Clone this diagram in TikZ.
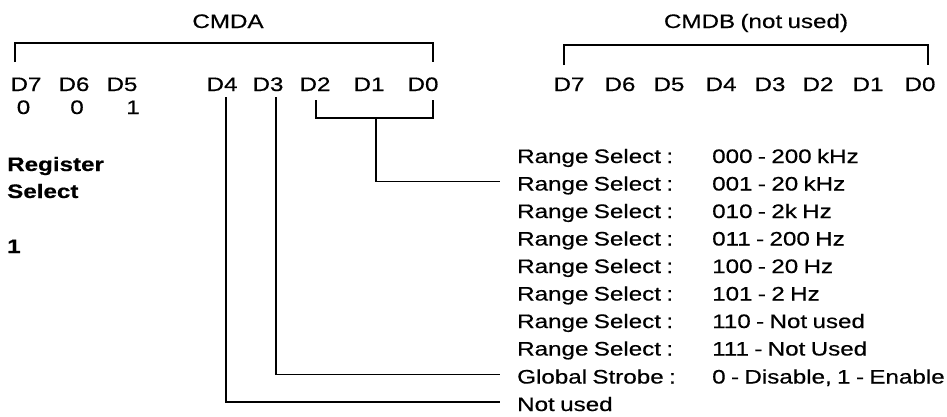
\documentclass[tikz,border=0pt]{standalone}
\usepackage{fontspec}
\setmainfont{Liberation Sans}[FakeStretch=1.24, WordSpace=0.8, FakeBold=0.5]
\begin{document}
\begin{tikzpicture}[x=1pt,y=-1pt,
  lbl/.style={inner sep=0pt, font=\fontsize{19.5}{22}\selectfont},
  bit/.style={lbl, anchor=base},
  row/.style={lbl, anchor=base west},
  bold/.style={row, font=\fontsize{19.5}{22}\selectfont\bfseries},
  wire/.style={line width=1.6pt}]
\useasboundingbox (0,0) rectangle (947,416);

% register titles
\node[bit] (cmda) at (228,28) {CMDA};
\node[bit] (cmdb) at (756,28) {CMDB (not used)};

% CMDA bit labels
\foreach \n/\x in {7/26,6/74,5/122,4/222,3/268,2/315,1/369,0/423}
  \node[bit] (a\n) at (\x,91) {D\n};
% CMDB bit labels
\foreach \n/\x in {7/569,6/620,5/669,4/721,3/770,2/818,1/868,0/920}
  \node[bit] (b\n) at (\x,91) {D\n};

% register select bits
\node[bit] (v7) at (23.5,114) {0};
\node[bit] (v6) at (77,114) {0};
\node[bit] (v5) at (133,114) {1};
\node[bold] (rs1) at (7,171) {Register};
\node[bold] (rs2) at (7,198) {Select};
\node[bold] (rs3) at (7,253) {1};

% range select table
\foreach [count=\i] \v in {000 - 200 kHz, 001 - 20 kHz, 010 - 2k Hz, 011 - 200 Hz,
    100 - 20 Hz, 101 - 2 Hz, 110 - Not used, 111 - Not Used}{
  \node[row] (r\i) at (517,{163+27.5*(\i-1)}) {Range Select :};
  \node[row] (rv\i) at (712,{163+27.5*(\i-1)}) {\v};
}
\node[row] (gs) at (517,383.5) {Global Strobe :};
\node[row] (gv) at (712,383.5) {0 - Disable, 1 - Enable};
\node[row] (nu) at (517,411) {Not used};

% brackets over the registers
\coordinate (aL) at (15,62);  \coordinate (aR) at (433,62);
\coordinate (bL) at (564,65); \coordinate (bR) at (928,65);
\draw[wire] (aL) -- ++(0,-19) -| (aR);
\draw[wire] (bL) -- ++(0,-20) -| (bR);

% range select bracket D2..D0
\coordinate (k2) at (316,100); \coordinate (k0) at (433,100);
\coordinate (km) at (376,118);
\draw[wire] (k2) -- ++(0,18) -| (k0);
\draw[wire] (km) |- ([shift={(-17pt,9pt)}]r2.base west);

% D3 and D4 leads
\coordinate (t3) at (276,97);
\coordinate (t4) at (226,97);
\draw[wire] (t3) |- ([shift={(-17pt,9pt)}]gs.base west);
\draw[wire] (t4) |- ([shift={(-17pt,9pt)}]nu.base west);
\end{tikzpicture}
\end{document}
